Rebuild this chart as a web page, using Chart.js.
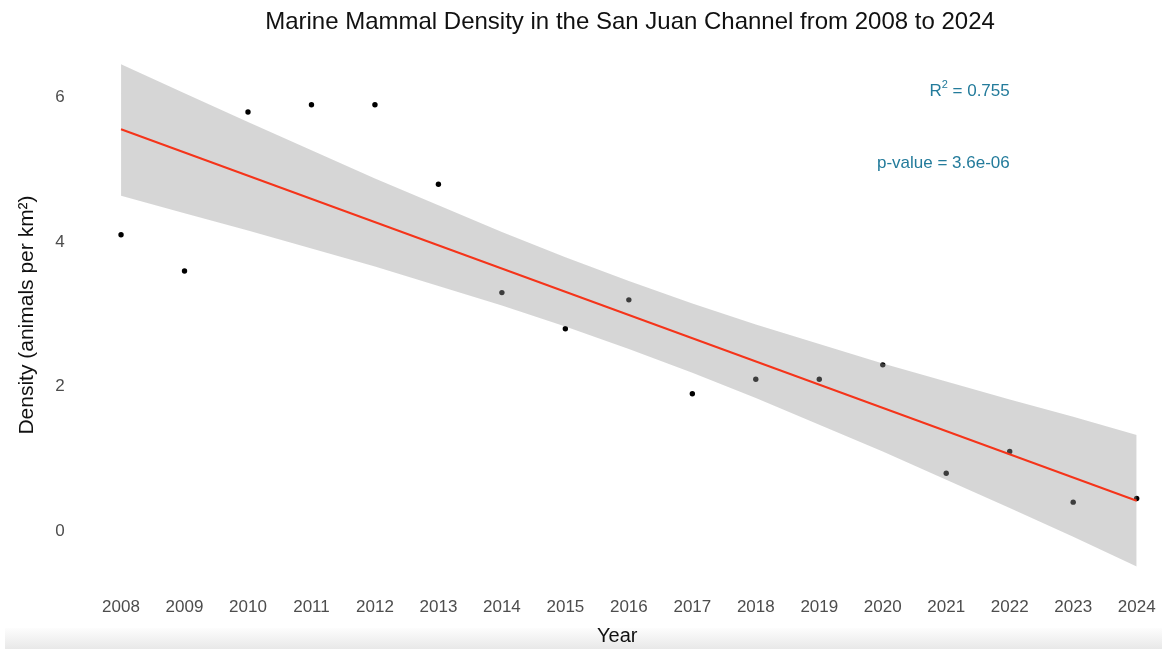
<!DOCTYPE html>
<html>
<head>
<meta charset="utf-8">
<script src="https://cdn.jsdelivr.net/npm/chart.js@4/dist/chart.umd.min.js"></script>
<style>
  html, body { margin: 0; padding: 0; background: #ffffff; }
  #wrap { position: relative; width: 1162px; height: 649px; overflow: hidden; }
  #shade { position: absolute; left: 5px; right: 0; top: 628px; height: 21px;
           background: linear-gradient(to bottom, #fdfdfd, #e8e8e8); }
  #c { position: absolute; left: 0; top: 0; }
</style>
</head>
<body>
<div id="wrap">
  <div id="shade"></div>
  <canvas id="c" width="1162" height="649"></canvas>
</div>
<script>
// Survey years and observed densities (animals per km²)
const years = [2008, 2009, 2010, 2011, 2012, 2013, 2014, 2015, 2016, 2017, 2018, 2019, 2020, 2021, 2022, 2023, 2024];
const density = [4.1, 3.6, 5.8, 5.9, 5.9, 4.8, 3.3, 2.8, 3.2, 1.9, 2.1, 2.1, 2.3, 0.8, 1.1, 0.4, 0.45];

// Linear trend (endpoints) and its 95% confidence band per year
const trendYears = [2008, 2024];
const trendValues = [5.56, 0.42];
const bandUpper = [6.46, 6.06, 5.66, 5.27, 4.88, 4.51, 4.14, 3.79, 3.46, 3.15, 2.86, 2.59, 2.32, 2.07, 1.82, 1.58, 1.33];
const bandLower = [4.64, 4.40, 4.16, 3.91, 3.66, 3.39, 3.12, 2.83, 2.52, 2.19, 1.84, 1.47, 1.10, 0.71, 0.32, -0.08, -0.49];

// Axis ticks
const yTicks = [0, 2, 4, 6];

// Fit statistics
const rSquared = '0.755';
const pValue = '3.6e-06';

const TITLE = 'Marine Mammal Density in the San Juan Channel from 2008 to 2024';
const FONT = '"Liberation Sans", Arial, Helvetica, sans-serif';

// Title centred over the panel, plus the fit statistics in the upper right
const decorations = {
  id: 'decorations',
  afterDraw(chart) {
    const { ctx, scales: { x, y } } = chart;
    ctx.save();
    ctx.fillStyle = '#111111';
    ctx.textAlign = 'center';
    ctx.textBaseline = 'middle';
    ctx.font = '24px ' + FONT;
    ctx.fillText(TITLE, 630, 22);

    ctx.fillStyle = '#237b9b';
    const right = x.getPixelForValue(2022);
    const yR = y.getPixelForValue(6.08);
    ctx.font = '17px ' + FONT;
    const tail = ' = ' + rSquared;
    const wTail = ctx.measureText(tail).width;
    const wR = ctx.measureText('R').width;
    ctx.font = '11px ' + FONT;
    const wSup = ctx.measureText('2').width;
    ctx.textAlign = 'left';
    const sx = right - wTail - wSup - wR;
    ctx.font = '17px ' + FONT;
    ctx.fillText('R', sx, yR);
    ctx.font = '11px ' + FONT;
    ctx.fillText('2', sx + wR, yR - 7);
    ctx.font = '17px ' + FONT;
    ctx.fillText(tail, sx + wR + wSup, yR);

    ctx.textAlign = 'right';
    ctx.fillText('p-value = ' + pValue, right, y.getPixelForValue(5.09));
    ctx.restore();
  }
};

new Chart(document.getElementById('c'), {
  type: 'scatter',
  data: {
    datasets: [
      {
        label: 'Density',
        data: years.map((yr, i) => ({ x: yr, y: density[i] })),
        backgroundColor: '#000000',
        borderWidth: 0,
        pointRadius: 2.7,
        order: 4
      },
      {
        label: 'Upper',
        type: 'line',
        data: years.map((yr, i) => ({ x: yr, y: bandUpper[i] })),
        borderWidth: 0,
        borderColor: 'rgba(0,0,0,0)',
        pointRadius: 0,
        backgroundColor: 'rgba(153,153,153,0.4)',
        fill: '+1',
        order: 3
      },
      {
        label: 'Lower',
        type: 'line',
        data: years.map((yr, i) => ({ x: yr, y: bandLower[i] })),
        borderWidth: 0,
        borderColor: 'rgba(0,0,0,0)',
        pointRadius: 0,
        fill: false,
        order: 3
      },
      {
        label: 'Trend',
        type: 'line',
        data: trendYears.map((yr, i) => ({ x: yr, y: trendValues[i] })),
        borderColor: '#f5341a',
        borderWidth: 2,
        pointRadius: 0,
        fill: false,
        order: 1
      }
    ]
  },
  options: {
    responsive: false,
    animation: false,
    events: [],
    layout: { padding: { left: 0, right: 0, top: 39, bottom: 0 } },
    plugins: {
      legend: { display: false },
      tooltip: { enabled: false },
      title: { display: false }
    },
    scales: {
      x: {
        type: 'linear',
        min: 2007.3,
        max: 2024.336,
        grid: { display: false, drawTicks: false },
        border: { display: false },
        afterBuildTicks: (s) => { s.ticks = years.map(v => ({ value: v })); },
        afterFit: (s) => { s.height = 58; s.paddingLeft = 0; s.paddingRight = 0; },
        ticks: {
          autoSkip: false,
          maxRotation: 0,
          padding: 6,
          color: '#4d4d4d',
          font: { family: FONT, size: 17 },
          callback: (v) => String(v)
        },
        title: {
          display: true,
          text: 'Year',
          color: '#111111',
          font: { family: FONT, size: 20 },
          padding: { top: 0, bottom: 1 }
        }
      },
      y: {
        type: 'linear',
        min: -0.83,
        max: 6.81,
        grid: { display: false, drawTicks: false },
        border: { display: false },
        afterBuildTicks: (s) => { s.ticks = yTicks.map(v => ({ value: v })); },
        afterFit: (s) => { s.width = 76.6; s.paddingTop = 0; s.paddingBottom = 0; },
        ticks: {
          padding: 12,
          color: '#4d4d4d',
          font: { family: FONT, size: 17 },
          callback: (v) => String(v)
        },
        title: {
          display: true,
          text: 'Density (animals per km²)',
          color: '#111111',
          font: { family: FONT, size: 21 },
          padding: { top: 15, bottom: 0 }
        }
      }
    }
  },
  plugins: [decorations]
});
</script>
</body>
</html>
